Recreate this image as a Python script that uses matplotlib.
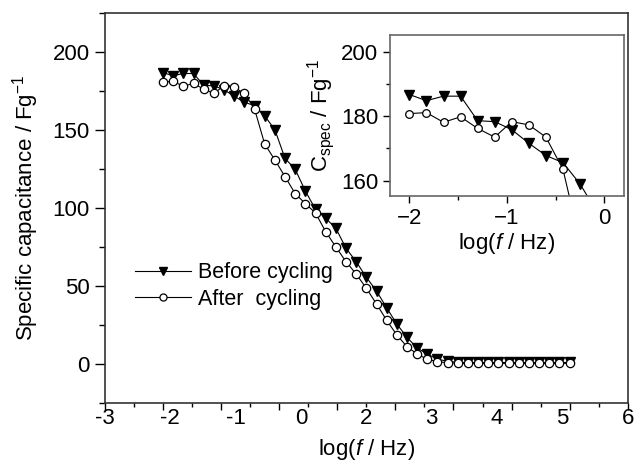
import numpy as np
import matplotlib
matplotlib.use("Agg")
from matplotlib import pyplot as plt

plt.rcParams['font.family'] = ['Liberation Sans', 'DejaVu Sans']
plt.rcParams['mathtext.fontset'] = 'custom'
plt.rcParams['mathtext.rm'] = 'Liberation Sans'
plt.rcParams['mathtext.it'] = 'Liberation Sans:italic'

# log(f / Hz) of the measured points
logf = [-2.0, -1.825, -1.65, -1.475, -1.3, -1.125, -0.95, -0.775, -0.6, -0.425,
        -0.25, -0.075, 0.1, 0.275, 0.45, 0.625, 0.8, 0.975, 1.15, 1.325,
        1.5, 1.675, 1.85, 2.025, 2.2, 2.375, 2.55, 2.725, 2.9, 3.075,
        3.25, 3.425, 3.6, 3.775, 3.95, 4.125, 4.3, 4.475, 4.65, 4.825, 5.0]

# specific capacitance, F/g
before = [186.7, 184.8, 186.2, 186.2, 178.6, 178.3, 175.8, 171.6, 167.8, 165.6,
          159.0, 150.2, 131.8, 124.8, 110.9, 99.1, 93.4, 87.0, 74.2, 65.6,
          55.6, 46.8, 36.0, 25.6, 17.1, 10.2, 6.4, 3.0, 1.8, 1.0,
          1.0, 1.0, 1.0, 1.0, 1.0, 1.0, 1.0, 1.0, 1.0, 1.0, 1.0]
after = [180.8, 181.1, 178.1, 179.8, 176.2, 173.5, 178.3, 177.3, 173.5, 163.5,
         141.0, 130.8, 120.1, 109.2, 102.8, 96.8, 84.8, 75.0, 65.6, 57.7,
         48.5, 38.5, 28.0, 18.6, 11.1, 6.4, 3.0, 1.5, 0.8, 0.4,
         0.4, 0.4, 0.4, 0.4, 0.4, 0.4, 0.4, 0.4, 0.4, 0.4, 0.4]

# x tick labels as printed in the original (spread evenly, "1" missing)
xlabels = ['-3', '-2', '-1', '0', '2', '3', '4', '5', '6']

fig = plt.figure(figsize=(6.36, 4.63), dpi=100)
ax = fig.add_axes([0.165, 0.1296, 0.822, 0.8424])

ax.plot(logf, before, color='k', lw=0.8, marker='v', ms=7, mfc='k', mec='k',
        label='Before cycling')
ax.plot(logf, after, color='k', lw=0.8, marker='o', ms=6, mfc='white', mec='k',
        mew=0.9, label='After  cycling')

ax.set_xlim(-3, 6)
ax.set_ylim(-25, 225)
ax.set_xticks(np.arange(-3, 7, 1))
ax.set_xticks(np.arange(-2.5, 6, 1), minor=True)
ax.set_yticks([0, 50, 100, 150, 200])
ax.set_yticks([-25, 25, 75, 125, 175, 225], minor=True)
ax.tick_params(axis='x', which='major', direction='out', length=5, width=1, labelbottom=False)
ax.tick_params(axis='x', which='minor', direction='out', length=3, width=1)
ax.tick_params(axis='y', which='major', direction='out', length=7, width=1, labelsize=16, pad=4)
ax.tick_params(axis='y', which='minor', direction='out', length=4, width=1)
for s in ax.spines.values():
    s.set_color('#333333')
    s.set_linewidth(1.2)

for k, lab in enumerate(xlabels):
    ax.text(-3 + k * 9 / 8, -0.012, lab, transform=ax.get_xaxis_transform(),
            ha='center', va='top', fontsize=16)
ax.text(0.5, -0.088, 'log($\\it{f}$ / Hz)', transform=ax.transAxes,
        ha='center', va='top', fontsize=16)
ax.set_ylabel('Specific capacitance / Fg$^{-1}$', fontsize=16, labelpad=8)

leg = ax.legend(loc='upper left', bbox_to_anchor=(0.02, 0.41), frameon=False,
                fontsize=15.5, handlelength=2.6, handletextpad=0.35,
                labelspacing=0.25, markerscale=0.85)

# inset
axi = fig.add_axes([0.613, 0.577, 0.368, 0.347])
axi.plot(logf, before, color='k', lw=0.8, marker='v', ms=6.5, mfc='k', mec='k')
axi.plot(logf, after, color='k', lw=0.8, marker='o', ms=5.5, mfc='white', mec='k', mew=0.9)
axi.set_xlim(-2.2, 0.2)
axi.set_ylim(155.3, 205.1)
axi.set_xticks([-2, -1, 0])
axi.set_xticks([-1.5, -0.5], minor=True)
axi.set_yticks([160, 180, 200])
axi.set_yticks([170, 190], minor=True)
axi.tick_params(which='major', direction='out', length=5, width=1, labelsize=16)
axi.tick_params(which='minor', direction='out', length=3, width=1)
for s in axi.spines.values():
    s.set_color('#666666')
    s.set_linewidth(1.2)
axi.set_xlabel('log($\\it{f}$ / Hz)', fontsize=16, labelpad=2)
axi.set_ylabel('C$_{\\rm spec}$ / Fg$^{-1}$', fontsize=16, labelpad=3)

fig.savefig('out.png', dpi=100)
